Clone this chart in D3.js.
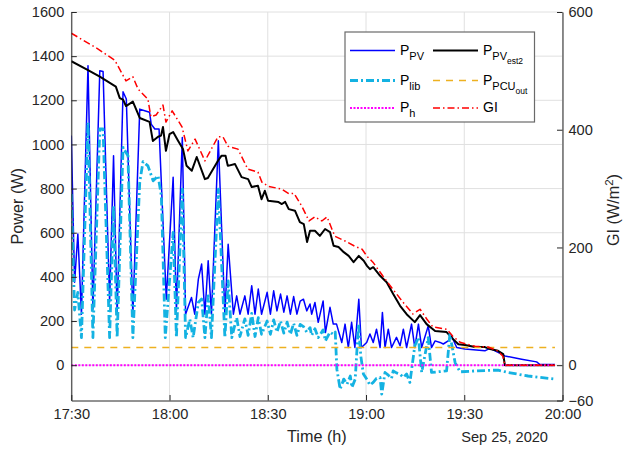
<!DOCTYPE html>
<html>
<head>
<meta charset="utf-8">
<script src="https://cdn.jsdelivr.net/npm/d3@7"></script>
<style>
  html, body { margin: 0; padding: 0; background: #fff; }
  svg { display: block; font-family: "Liberation Sans", Arial, Helvetica, sans-serif; }
  .grid line { stroke: #e0e0e0; stroke-width: 1; }
  .axis text { fill: #262626; font-size: 14.6px; }
  .axis line, .axis path { stroke: #262626; }
</style>
</head>
<body>
<svg id="chart" width="623" height="451"></svg>
<script>
// time in minutes after 17:30 on Sep 25, 2020
const xTickLabels = ["17:30", "18:00", "18:30", "19:00", "19:30", "20:00"];
const leftTicks = [0, 200, 400, 600, 800, 1000, 1200, 1400, 1600];
const rightTicks = [-60, 0, 200, 400, 600];

// P_PV (W)
const pPV = [[0,1040],[1,376],[2,594],[3.1,231],[5.1,1357],[6.6,254],[8.7,1334],[9.7,1330],
  [11.7,286],[12.9,949],[14,231],[15.8,1239],[16.8,1206],[18.8,231],[20.9,1160],[22.4,1153],
  [23.9,1146],[24.4,1092],[25.5,1070],[26.8,1070],[29,299],[31.1,851],[32.1,246],[33.9,1032],
  [34.9,231],[36.7,307],[37.7,231],[38.8,390],[39.8,458],[40.8,231],[41.8,473],[42.8,231],
  [44.9,1017],[46.9,231],[47.9,548],[49.5,231],[50.5,314],[51.5,231],[53,314],[54,231],
  [55.1,360],[56.1,231],[57.1,345],[58.1,231],[59.8,330],[60.8,231],[61.8,337],[62.8,246],
  [63.9,322],[64.9,240],[65.9,314],[66.9,231],[67.9,311],[68.9,231],[69.9,290],[70.9,299],
  [71.9,246],[72.9,277],[73.4,231],[74.4,284],[75.4,194],[76.9,291],[77.6,148],[79,262],
  [80,186],[81,186],[82.6,103],[83.6,186],[84.6,80],[85.6,194],[86.6,80],[87.8,299],
  [88.6,80],[90.2,103],[91.2,141],[92.2,103],[93.2,163],[94.3,80],[95,239],[95.8,80],
  [96.8,163],[97.8,80],[99.3,126],[100.4,88],[101.4,163],[102.4,80],[103.9,186],[104.9,80],
  [106,186],[107,80],[109,178],[110,80],[111.1,110],[112.6,103],[113.6,96],[115.1,110],
  [116.1,133],[117.7,80],[120.2,73],[126.3,65],[127.8,76],[129.4,65],[132.4,42],[137.5,27],
  [142.1,15],[143.1,3],[147.7,3]];

// P_PVest2 (W)
const pPVest2 = [[0,1377],[5.1,1337],[8.7,1307],[13.6,1262],[14.8,1210],[15.8,1203],[16.7,1174],
  [18.8,1194],[20.9,1120],[23.9,1102],[24.9,1016],[26.5,1035],[27.4,1040],[28,1079],[28.9,971],
  [30,1047],[31.1,1056],[32.6,1017],[34.1,979],[35.2,903],[36.8,881],[38.3,943],[40.8,843],
  [41.7,848],[44.8,926],[45.9,949],[47.1,949],[47.8,903],[50,911],[52,852],[54,843],[55.1,807],
  [57,813],[58.1,752],[59.1,790],[60.1,745],[63.3,739],[64.3,730],[65.3,740],[66.4,707],
  [68.3,700],[69.8,648],[71,639],[72,558],[72.9,609],[74.4,609],[75.9,586],[77.5,617],[79,603],
  [80.1,541],[81.6,535],[83.2,512],[84.7,495],[86.2,467],[87.8,495],[89.3,473],[90.3,450],
  [91.2,435],[92.2,444],[94.3,405],[96.3,376],[98.3,322],[100.4,269],[102.4,231],[104.9,195],
  [106.5,227],[108.5,186],[111.1,155],[114.6,150],[116.6,118],[118.2,95],[120.2,91],[123.3,82],
  [126.3,82],[127.9,73],[130.3,65],[131.9,50],[132.4,0],[147.7,0]];

// P_lib (W)
const pLib = [[0,775],[1,250],[2,330],[3.1,125],[5.1,1100],[6.6,125],[8.7,1070],[9.7,1070],
  [11.7,125],[12.9,722],[14,125],[15.8,987],[17.3,949],[18.8,125],[20.9,829],[21.9,922],
  [23.4,903],[25,835],[26.5,858],[27.5,767],[28.7,125],[31.1,601],[32.1,125],[33.9,798],
  [34.9,125],[36.2,208],[37.2,125],[38.8,284],[39.8,300],[40.8,125],[41.8,314],[42.8,125],
  [44.9,798],[46.9,125],[47.9,382],[49,125],[50.5,215],[51.5,130],[53,210],[54,135],[55.1,235],
  [56.1,130],[57.1,215],[58.1,140],[59.8,200],[60.8,140],[61.8,205],[62.8,150],[63.9,200],
  [64.9,145],[65.9,195],[66.9,140],[67.9,190],[68.9,135],[69.9,185],[70.9,175],[71.9,150],
  [72.9,170],[73.4,135],[74.4,165],[75.4,125],[76.9,160],[77.6,110],[79,150],[80,140],
  [80.6,150],[81.1,-18],[82.1,-109],[83.2,-63],[84.2,-86],[85.2,-49],[85.7,-101],[86.7,-63],
  [87.7,186],[88.4,42],[89.2,-40],[90.2,-63],[91.2,-90],[92.2,-78],[93.2,-60],[94.3,-56],
  [94.8,-131],[95.8,-33],[96.8,-45],[97.8,-60],[98.3,-26],[99.3,-35],[100.4,-41],[101.4,-55],
  [102.4,-40],[103.4,-78],[104.9,88],[106,125],[107,-33],[109,125],[110,-33],[114.6,-26],
  [115.6,140],[117.2,12],[118.7,-30],[123.3,-26],[130.3,-22],[133.3,-33],[139.5,-49],[147.7,-63]];

// P_PCUout and P_h (W)
const pPCUout = [[0,80],[147.7,80]];
const pH = [[0,0],[147.7,0]];

// GI (W/m^2)
const gi = [[0,564],[8.2,537],[13.3,518],[16.7,483],[18.8,490],[20.4,469],[23.4,452],[24.3,422],
  [25.9,425],[28,442],[28.9,413],[30.8,432],[33.8,405],[35.6,364],[37.8,384],[40.8,347],
  [44.8,388],[46.3,388],[47.8,372],[50.9,367],[53.9,333],[57,328],[58.2,311],[60.1,304],
  [64.3,299],[66.5,291],[68,292],[70.4,270],[72.6,245],[74.4,252],[76.5,245],[78.1,252],
  [79.6,231],[80.5,219],[83.6,211],[86.6,202],[88.8,197],[90.3,185],[92.1,175],[95.2,151],
  [98.2,129],[101.3,107],[104.3,87],[106.5,95],[108.6,78],[110.4,65],[114.7,61],[116.5,49],
  [118.7,39],[123.3,32],[127.3,31],[130.3,24],[131.8,15],[132.4,0],[147.7,0]];

const svg = d3.select("#chart");
const m = { left: 71.3, right: 562.5, top: 12, bottom: 400.5 };
const t0 = new Date(2020, 8, 25, 17, 30);
const toDate = (t) => new Date(t0.getTime() + t * 60000);

const x = d3.scaleTime().domain([t0, toDate(150)]).range([m.left, m.right]);
const yL = d3.scaleLinear().domain([-160, 1600]).range([m.bottom, m.top]);
const yR = d3.scaleLinear().domain([-60, 600]).range([m.bottom, m.top]);
const xTicks = xTickLabels.map((d, i) => toDate(i * 30));

// grid
const grid = svg.append("g").attr("class", "grid");
grid.selectAll("line.v").data(xTicks).enter().append("line")
  .attr("x1", (d) => x(d)).attr("x2", (d) => x(d))
  .attr("y1", m.top).attr("y2", m.bottom);
grid.selectAll("line.h").data(leftTicks).enter().append("line")
  .attr("x1", m.left).attr("x2", m.right)
  .attr("y1", (d) => yL(d)).attr("y2", (d) => yL(d));

svg.append("clipPath").attr("id", "clip").append("rect")
  .attr("x", m.left).attr("y", m.top)
  .attr("width", m.right - m.left).attr("height", m.bottom - m.top);

const plot = svg.append("g").attr("clip-path", "url(#clip)");
const lineL = d3.line().x((d) => x(toDate(d[0]))).y((d) => yL(d[1]));
const lineR = d3.line().x((d) => x(toDate(d[0]))).y((d) => yR(d[1]));

const series = [
  { data: pPV, line: lineL, color: "#0000ff", width: 1.5, dash: null },
  { data: pPVest2, line: lineL, color: "#000000", width: 2, dash: null },
  { data: pLib, line: lineL, color: "#14b2e2", width: 2.8, dash: "8,3,2,3" },
  { data: pPCUout, line: lineL, color: "#edb120", width: 1.6, dash: "7,6" },
  { data: pH, line: lineL, color: "#ff00ff", width: 2, dash: "2,1.5" },
  { data: gi, line: lineR, color: "#ff0000", width: 1.5, dash: "7,3,1.5,3" },
];
series.forEach((s) => {
  plot.append("path").datum(s.data)
    .attr("d", s.line)
    .attr("fill", "none")
    .attr("stroke", s.color)
    .attr("stroke-width", s.width)
    .attr("stroke-linejoin", "round")
    .attr("stroke-dasharray", s.dash);
});

// axes
const fmt = d3.timeFormat("%H:%M");
svg.append("g").attr("class", "axis")
  .attr("transform", `translate(0,${m.bottom})`)
  .call(d3.axisBottom(x).tickValues(xTicks).tickFormat(fmt)
    .tickSizeInner(-5.5).tickSizeOuter(0).tickPadding(8));
svg.append("g").attr("class", "axis")
  .attr("transform", `translate(${m.left},0)`)
  .call(d3.axisLeft(yL).tickValues(leftTicks).tickFormat(d3.format("d"))
    .tickSizeInner(-5.5).tickSizeOuter(0).tickPadding(7));
svg.append("g").attr("class", "axis")
  .attr("transform", `translate(${m.right},0)`)
  .call(d3.axisRight(yR).tickValues(rightTicks).tickFormat(d3.format("d"))
    .tickSizeInner(-5.5).tickSizeOuter(0).tickPadding(6));
svg.selectAll(".axis .domain").attr("stroke", "#262626");

// labels
const labels = svg.append("g").attr("fill", "#262626");
labels.append("text").attr("x", (m.left + m.right) / 2).attr("y", 442)
  .attr("text-anchor", "middle").attr("font-size", 16.2).text("Time (h)");
labels.append("text").attr("x", 548).attr("y", 442)
  .attr("text-anchor", "end").attr("font-size", 14.6).text("Sep 25, 2020");
labels.append("text")
  .attr("transform", `translate(23,${(m.top + m.bottom) / 2}) rotate(-90)`)
  .attr("text-anchor", "middle").attr("font-size", 16.2).text("Power (W)");
const gl = labels.append("text")
  .attr("transform", `translate(619,210) rotate(-90)`)
  .attr("text-anchor", "middle").attr("font-size", 16.2);
gl.append("tspan").text("GI (W/m");
gl.append("tspan").attr("dy", -6).attr("font-size", 11.5).text("2");
gl.append("tspan").attr("dy", 6).text(")");

// legend
const lg = svg.append("g");
lg.append("rect").attr("x", 345).attr("y", 32).attr("width", 189.5).attr("height", 90)
  .attr("fill", "#fff").attr("stroke", "#6a6a6a").attr("stroke-width", 1.2);
const legendItems = [
  { s: series[0], col: 0, row: 0, sub: "PV", sub2: null },
  { s: series[1], col: 1, row: 0, sub: "PV", sub2: "est2" },
  { s: series[2], col: 0, row: 1, sub: "lib", sub2: null },
  { s: series[3], col: 1, row: 1, sub: "PCU", sub2: "out" },
  { s: series[4], col: 0, row: 2, sub: "h", sub2: null },
  { s: series[5], col: 1, row: 2, sub: null, sub2: null, text: "GI" },
];
const rowY = [50.5, 80.5, 108];
const colX = [350, 433];
legendItems.forEach((it) => {
  const ly = rowY[it.row];
  const lx = colX[it.col];
  lg.append("line").attr("x1", lx).attr("x2", lx + 45).attr("y1", ly).attr("y2", ly)
    .attr("stroke", it.s.color).attr("stroke-width", it.s.width)
    .attr("stroke-dasharray", it.s.dash);
  const t = lg.append("text").attr("x", lx + 50).attr("y", ly + 4).attr("font-size", 14)
    .attr("fill", "#000");
  if (it.text) { t.text(it.text); return; }
  t.append("tspan").text("P");
  t.append("tspan").attr("dy", 5).attr("font-size", 11).text(it.sub);
  if (it.sub2) t.append("tspan").attr("dy", 4.5).attr("font-size", 8.5).text(it.sub2);
});
</script>
</body>
</html>
